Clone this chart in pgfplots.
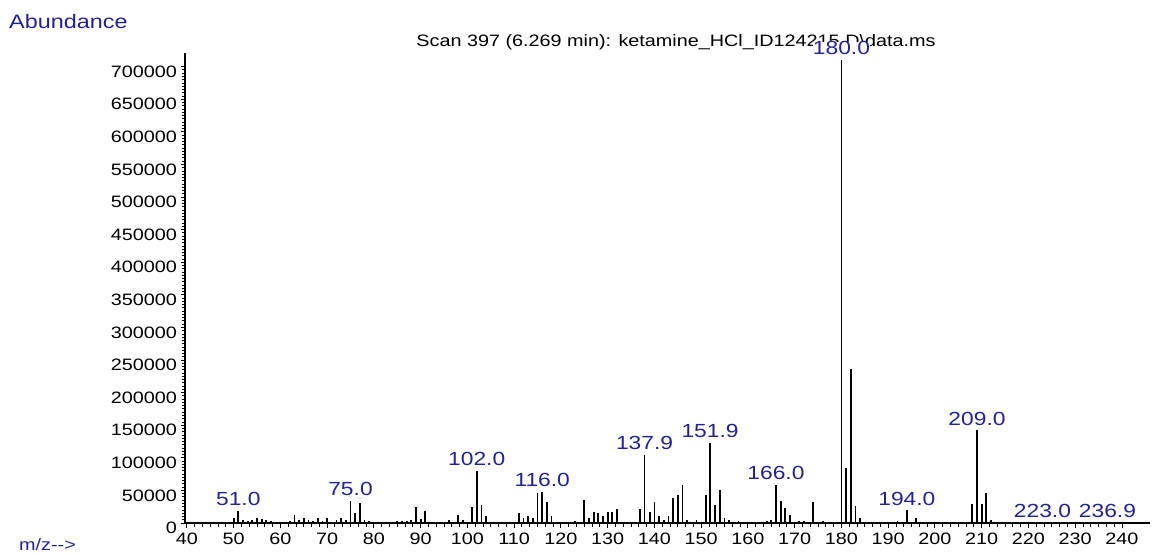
\documentclass[border=0pt]{standalone}
\usepackage{pgfplots}
\pgfplotsset{compat=1.18}
\usepackage{pgfplotstable}
\usepackage{fontspec}
\setmainfont{Liberation Sans}[FakeStretch=1.2]
\definecolor{lblue}{RGB}{35,35,150}

% peak list, m/z and abundance
\pgfplotstableread{
mz int
50 7700
51 18000
52 4100
53 2600
54 5200
55 7700
56 6700
57 4100
58 2600
62 2600
63 11800
64 4100
65 7700
66 4100
67 2600
68 7700
69 2600
70 7700
72 5200
73 7700
74 5200
75 33300
76 15300
77 30700
78 5200
79 2600
85 2600
86 2600
87 2600
88 5200
89 24500
90 6700
91 17900
96 4100
98 11800
99 5200
101 24500
102 80000
103 28000
104 10100
111 15300
112 7700
113 10100
114 7700
115 46000
116 47000
117 31600
118 10100
123 3500
125 35700
126 7700
127 16900
128 15300
129 10100
130 16900
131 16900
132 20900
137 20900
137.9 104800
139 16900
140 32500
141 10100
142 4100
143 10100
144 38300
145 43400
146 58800
147 4100
149 4100
151 43400
151.9 122700
153 28000
154 50000
155 7700
156 4100
158 2600
164 3000
165 4000
166 58800
167 34500
168 23300
169 13000
171 3000
172 3000
174 31900
176 3000
178 2000
180 710000
181 85000
182 237000
183 25800
184 7400
192 3000
194 19200
196 8000
208 28800
209 142000
210 28400
211 46300
212 4000
223 800
236.9 800
}\peaks

% labelled peaks
\pgfplotstableread{
mz int lab
51 18000 51.0
75 33300 75.0
102 80000 102.0
116 47000 116.0
137.9 104800 137.9
151.9 122700 151.9
166 58800 166.0
180 710000 180.0
194 19200 194.0
209 142000 209.0
223 800 223.0
236.9 800 236.9
}\peaklabels

\begin{document}
\begin{tikzpicture}
\useasboundingbox (-185pt,-31pt) rectangle (968pt,523pt);
\node[anchor=west, text=lblue, font=\fontsize{19.5}{21}\selectfont, inner sep=0pt] at (-176pt,501pt) {Abundance};
\node[anchor=west, text=lblue, font=\fontsize{16.5}{18}\selectfont, inner sep=0pt] at (-166pt,-22pt) {m/z-{}-{}>};
\node[font=\fontsize{16.5}{18}\selectfont, inner sep=0pt] at (491pt,481pt) {Scan 397 (6.269 min): ketamine\_HCl\_ID124215.D\textbackslash data.ms};
\begin{axis}[
  at={(0pt,0pt)}, anchor=south west,
  scale only axis, width=965pt, height=470pt,
  xmin=39.6, xmax=246, ymin=0, ymax=721000,
  axis lines=left, axis line style={-, line width=1.4pt},
  tick align=outside,
  xtick={40,50,...,240}, minor x tick num=5,
  ytick={0,50000,...,700000}, minor y tick num=9,
  scaled y ticks=false,
  /pgf/number format/assume math mode=true,
  yticklabel style={/pgf/number format/fixed, /pgf/number format/1000 sep={}, yshift=-5pt},
  xticklabel style={yshift=-2pt},
  tick label style={font=\fontsize{16.5}{18}\selectfont},
  major tick length=4.5pt, minor tick length=3.5pt,
  tick style={black, line width=0.9pt},
  clip=false,
]
\addplot[ycomb, black, line width=1.8pt, mark=none] table[x=mz,y=int]{\peaks};
\addplot[draw=none, mark=none, nodes near coords, point meta=explicit symbolic,
  every node near coord/.append style={text=lblue, font=\fontsize{19}{21}\selectfont,
    anchor=south, inner sep=0pt, fill=white, yshift=5pt}]
  table[x=mz,y=int,meta=lab]{\peaklabels};
\end{axis}
\end{tikzpicture}
\end{document}
